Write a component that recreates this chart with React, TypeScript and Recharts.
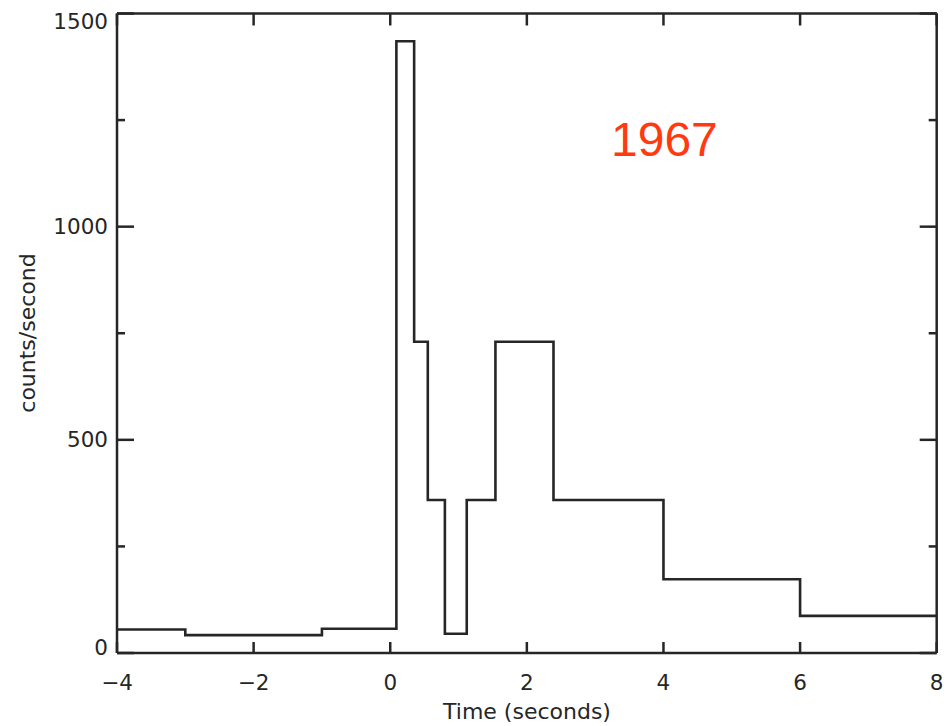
import React from "react";
import { LineChart, Line, XAxis, YAxis } from "recharts";

const times = [-4, -3, -1, 0.09, 0.35, 0.55, 0.8, 1.12, 1.54, 2.39, 4.0, 6.0, 8.0];
const counts = [55, 42, 57, 1435, 730, 359, 45, 359, 730, 359, 173, 87, 87];
const xTicks = [-4, -2, 0, 2, 4, 6, 8];
const yTicks = [0, 250, 500, 750, 1000, 1250, 1500];
const yMajor = [0, 500, 1000, 1500];

const data = times.map((t, i) => ({ t, c: counts[i] }));

const INK = "#262626";
const FONT = "DejaVu Sans, sans-serif";

const LeftTick = (p: any) => {
  const { x, y, payload } = p;
  const v = payload.value;
  const major = yMajor.includes(v);
  const len = major ? 17 : 8;
  let dy = 0;
  if (v === 0) dy = -6;
  if (v === 1500) dy = 8;
  return (
    <g>
      <line x1={x} x2={x + len} y1={y} y2={y} stroke={INK} strokeWidth={2.5} />
      {major && (
        <text x={x - 9} y={y + dy} textAnchor="end" dominantBaseline="central" fontFamily={FONT} fontSize={21.5} fill={INK}>
          {v}
        </text>
      )}
    </g>
  );
};

const RightTick = (p: any) => {
  const { x, y, payload } = p;
  const v = payload.value;
  const major = yMajor.includes(v);
  const len = major ? 17 : 8;
  return <line x1={x} x2={x - len} y1={y} y2={y} stroke={INK} strokeWidth={2.5} />;
};

const BottomTick = (p: any) => {
  const { x, y, payload } = p;
  const v = payload.value;
  return (
    <g>
      <line x1={x} x2={x} y1={y} y2={y - 11} stroke={INK} strokeWidth={2.5} />
      <text x={x} y={y + 29} textAnchor="middle" dominantBaseline="central" fontFamily={FONT} fontSize={21.5} fill={INK}>
        {v < 0 ? "\u2212" + Math.abs(v) : String(v)}
      </text>
    </g>
  );
};

const TopTick = (p: any) => {
  const { x, y } = p;
  return <line x1={x} x2={x} y1={y} y2={y + 12} stroke={INK} strokeWidth={2.5} />;
};

export default function App() {
  return (
    <div style={{ position: "absolute", left: 0, top: 0, width: 947, height: 726, background: "#fff" }}>
      <LineChart width={947} height={726} data={data} margin={{ top: 0, right: 0, bottom: 0, left: 0 }}>
        <XAxis
          xAxisId="b"
          dataKey="t"
          type="number"
          domain={[-4, 8]}
          ticks={xTicks}
          interval={0}
          orientation="bottom"
          height={73}
          tickSize={0}
          tickMargin={0}
          tickLine={false}
          axisLine={{ stroke: INK, strokeWidth: 2.5 }}
          tick={<BottomTick />}
        />
        <XAxis
          xAxisId="t"
          dataKey="t"
          type="number"
          domain={[-4, 8]}
          ticks={xTicks}
          interval={0}
          orientation="top"
          height={13.5}
          tickSize={0}
          tickMargin={0}
          tickLine={false}
          axisLine={{ stroke: INK, strokeWidth: 2.5 }}
          tick={<TopTick />}
        />
        <YAxis
          yAxisId="l"
          type="number"
          domain={[0, 1500]}
          ticks={yTicks}
          interval={0}
          orientation="left"
          width={117}
          tickSize={0}
          tickMargin={0}
          tickLine={false}
          axisLine={{ stroke: INK, strokeWidth: 2.5 }}
          tick={<LeftTick />}
        />
        <YAxis
          yAxisId="r"
          type="number"
          domain={[0, 1500]}
          ticks={yTicks}
          interval={0}
          orientation="right"
          width={10.3}
          tickSize={0}
          tickMargin={0}
          tickLine={false}
          axisLine={{ stroke: INK, strokeWidth: 2.5 }}
          tick={<RightTick />}
        />
        <Line
          xAxisId="b"
          yAxisId="l"
          dataKey="c"
          type="stepAfter"
          stroke={INK}
          strokeWidth={2.6}
          dot={false}
          isAnimationActive={false}
        />
        <Line
          xAxisId="t"
          yAxisId="r"
          dataKey="c"
          type="stepAfter"
          stroke="none"
          strokeWidth={0}
          dot={false}
          isAnimationActive={false}
        />
      </LineChart>
      <svg width={947} height={726} style={{ position: "absolute", left: 0, top: 0, pointerEvents: "none" }}>
        <text x={527} y={711} textAnchor="middle" dominantBaseline="central" fontFamily={FONT} fontSize={22} fill={INK}>
          Time (seconds)
        </text>
        <text
          x={27}
          y={333}
          textAnchor="middle"
          dominantBaseline="central"
          fontFamily={FONT}
          fontSize={22}
          fill={INK}
          transform="rotate(-90 27 333)"
        >
          counts/second
        </text>
        <text x={611} y={156} fontFamily="Liberation Sans, Arial, sans-serif" fontSize={48} fill="#ff3a10">
          1967
        </text>
      </svg>
    </div>
  );
}
